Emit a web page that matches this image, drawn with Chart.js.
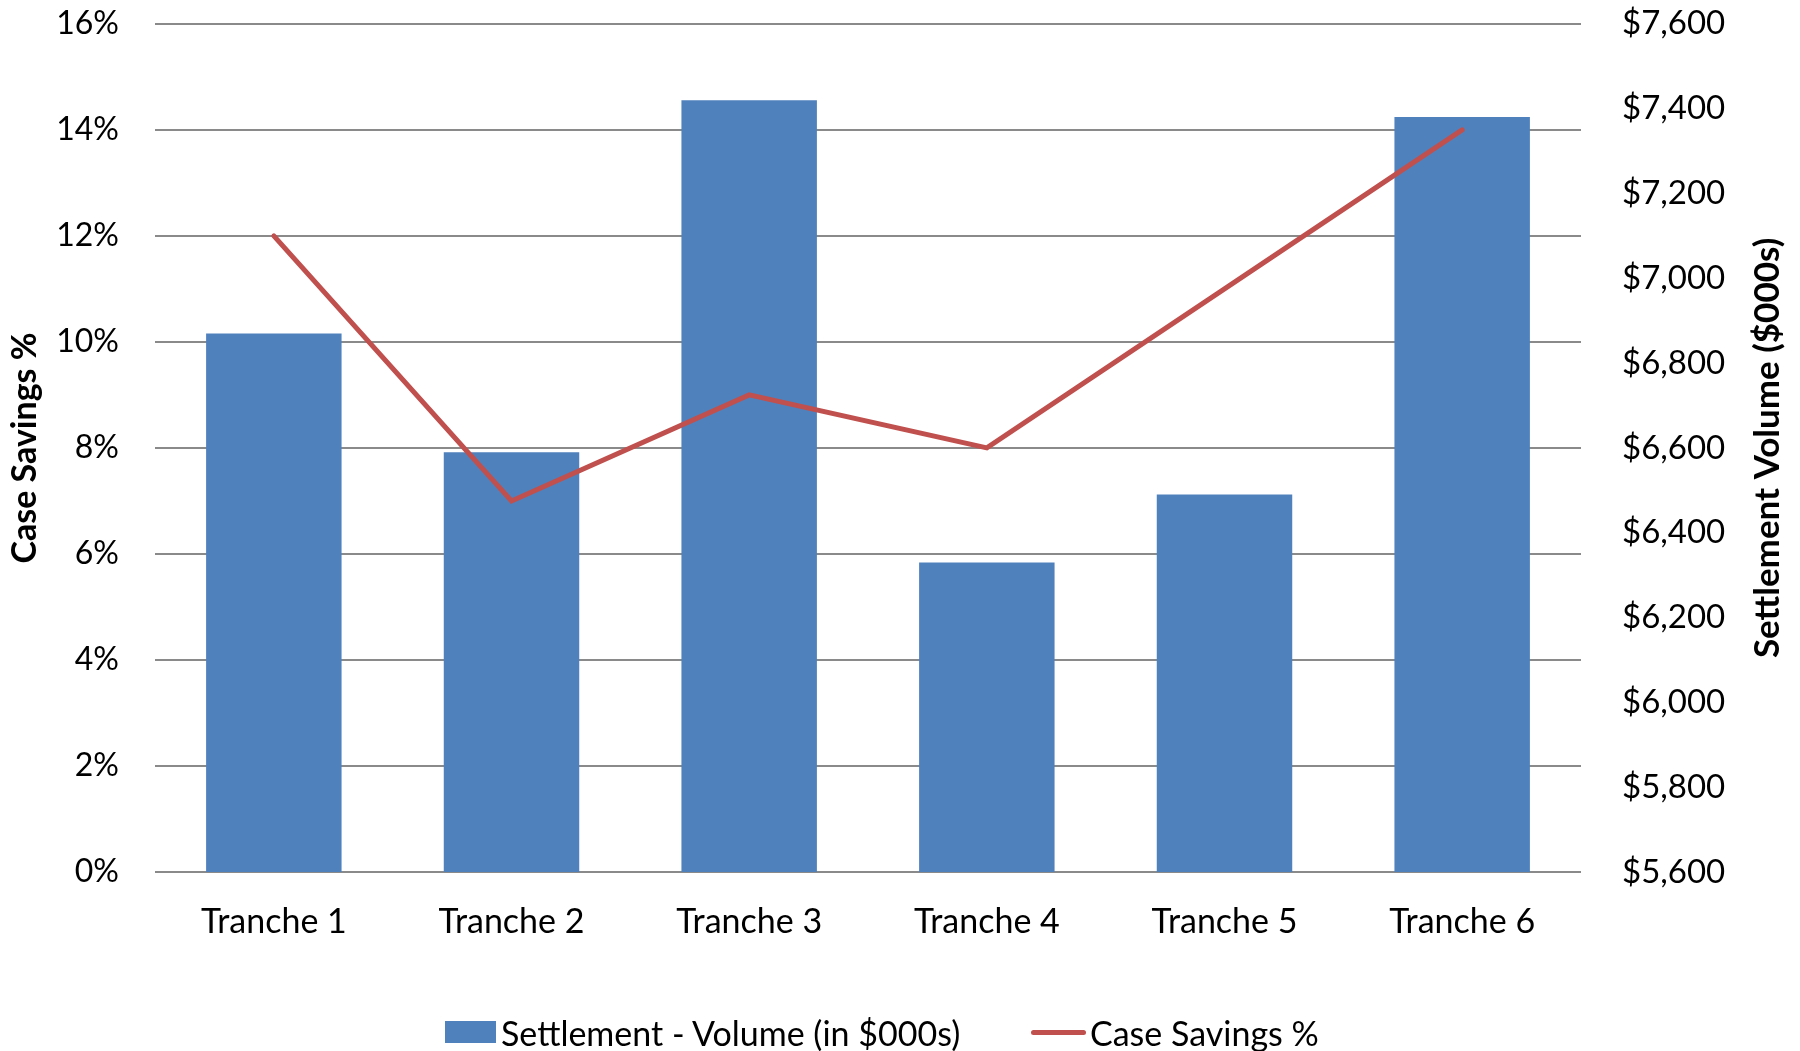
<!DOCTYPE html>
<html>
<head>
<meta charset="utf-8">
<script src="https://cdn.jsdelivr.net/npm/chart.js@4/dist/chart.umd.min.js"></script>
<style>
  html, body { margin: 0; padding: 0; background: #ffffff; overflow: hidden; }
  #wrap { position: relative; width: 1800px; height: 1051px; overflow: hidden; }
  canvas { position: absolute; left: 0; top: -37px; }
  .lg { position: absolute; top: 1012px; height: 40px; display: flex; align-items: center;
        font-family: Lato, "Open Sans", sans-serif; font-size: 34px; color: #000; white-space: nowrap; }
  .sw-bar { width: 51px; height: 22px; background: #4F81BD; margin-right: 5px; }
  .sw-line { width: 55px; height: 5px; border-radius: 3px; background: #C0504D; margin-right: 4px; }
</style>
</head>
<body>
<div id="wrap">
  <canvas id="c" width="1800" height="1088"></canvas>
  <div class="lg" style="left:445px"><div class="sw-bar"></div><span>Settlement - Volume (in $000s)</span></div>
  <div class="lg" style="left:1031px"><div class="sw-line"></div><span>Case Savings %</span></div>
</div>
<script>
const categories = ['Tranche 1', 'Tranche 2', 'Tranche 3', 'Tranche 4', 'Tranche 5', 'Tranche 6'];
const settlementVolume = [6870, 6590, 7420, 6330, 6490, 7380];   // $000s
const caseSavingsPct = [12, 7, 9, 8, 11, 14];                    // percent
const pctTicks = [0, 2, 4, 6, 8, 10, 12, 14, 16];
const volumeTicks = [5600, 5800, 6000, 6200, 6400, 6600, 6800, 7000, 7200, 7400, 7600];

const FONT = 'Lato, "Open Sans", sans-serif';
const GRID = '#8a8a8a';

// right-hand axis title, reading bottom to top
const rightTitle = {
  id: 'rightTitle',
  afterDraw(chart) {
    const { ctx, chartArea } = chart;
    ctx.save();
    ctx.translate(1768, (chartArea.top + chartArea.bottom) / 2);
    ctx.rotate(-Math.PI / 2);
    ctx.font = 'bold 35px ' + FONT;
    ctx.fillStyle = '#000';
    ctx.textAlign = 'center';
    ctx.textBaseline = 'middle';
    ctx.fillText('Settlement Volume ($000s)', 0, 0);
    ctx.restore();
  }
};

new Chart(document.getElementById('c'), {
  data: {
    labels: categories,
    datasets: [
      {
        type: 'bar',
        label: 'Settlement - Volume (in $000s)',
        data: settlementVolume,
        yAxisID: 'y1',
        backgroundColor: '#4F81BD',
        borderWidth: 0,
        categoryPercentage: 1,
        barPercentage: 0.57,
        order: 2
      },
      {
        type: 'line',
        label: 'Case Savings %',
        data: caseSavingsPct,
        yAxisID: 'y',
        borderColor: '#C0504D',
        borderWidth: 5,
        borderCapStyle: 'round',
        pointRadius: 0,
        tension: 0,
        order: 1
      }
    ]
  },
  options: {
    responsive: false,
    devicePixelRatio: 1,
    animation: false,
    layout: { padding: { top: 0, bottom: 79, left: 0, right: 0 } },
    plugins: { legend: { display: false }, tooltip: { enabled: false } },
    scales: {
      x: {
        grid: { display: false },
        border: { display: false },
        ticks: { font: { family: FONT, size: 34 }, color: '#000', padding: 22 },
        afterFit(s) { s.height = 100; }
      },
      y: {
        position: 'left',
        min: 0, max: 16,
        afterBuildTicks(s) { s.ticks = pctTicks.map(v => ({ value: v })); },
        ticks: { font: { family: FONT, size: 32 }, color: '#000', padding: 36,
                 callback: v => v + '%' },
        grid: { color: GRID, lineWidth: 2, drawTicks: false },
        border: { display: false },
        title: { display: true, text: 'Case Savings %', color: '#000',
                 font: { family: FONT, size: 34, weight: 'bold' }, padding: { top: 5, bottom: 0 } },
        afterFit(s) { s.width = 155; }
      },
      y1: {
        position: 'right',
        min: 5600, max: 7600,
        afterBuildTicks(s) { s.ticks = volumeTicks.map(v => ({ value: v })); },
        ticks: { font: { family: FONT, size: 33 }, color: '#000', padding: 41,
                 callback: v => '$' + v.toLocaleString('en-US') },
        grid: { drawOnChartArea: false, drawTicks: false },
        border: { display: false },
        afterFit(s) { s.width = 219; }
      }
    }
  },
  plugins: [rightTitle]
});
</script>
</body>
</html>
